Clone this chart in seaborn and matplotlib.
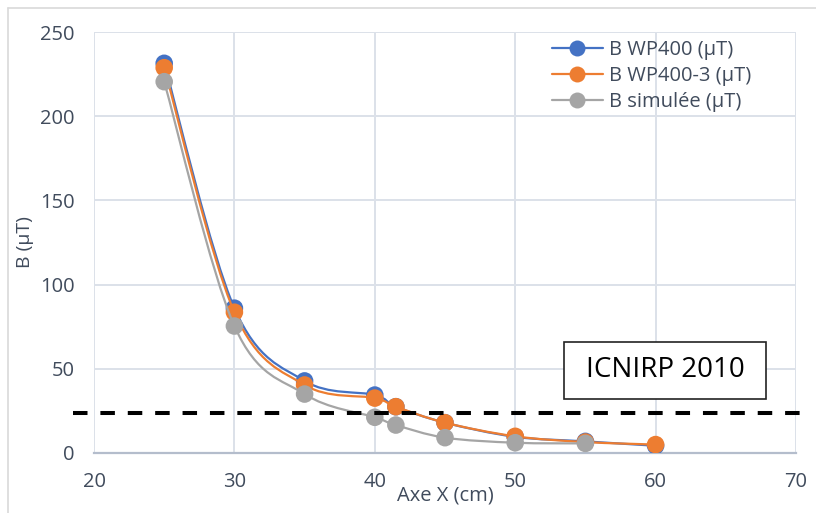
import numpy as np
import pandas as pd
import matplotlib
matplotlib.use("Agg")
import matplotlib.pyplot as plt
import seaborn as sns
from matplotlib.path import Path
from matplotlib.patches import PathPatch, Rectangle
from matplotlib.lines import Line2D

# ---- data ----
x_wp400 = [25, 30, 35, 40, 41.5, 45, 50, 55, 60]
b_wp400 = [231.4, 86.0, 42.8, 34.4, 27.5, 18.0, 9.6, 6.9, 4.3]
x_wp400_3 = [25, 30, 35, 40, 41.5, 45, 50, 55, 60]
b_wp400_3 = [228.8, 83.6, 40.4, 32.6, 27.5, 18.0, 9.9, 6.5, 5.0]
x_sim = [25, 30, 35, 40, 41.5, 45, 50, 55]
b_sim = [220.5, 75.4, 35.0, 21.2, 16.6, 9.1, 6.1, 5.7]
series_names = ["B WP400 (µT)", "B WP400-3 (µT)", "B simulée (µT)"]
series_colors = ["#4472C4", "#ED7D31", "#A5A5A5"]
icnirp_level = 24
icnirp_label = "ICNIRP 2010"
x_ticks = [20, 30, 40, 50, 60, 70]
y_ticks = [0, 50, 100, 150, 200, 250]

sns.set_theme(style="white")
plt.rcParams['font.family'] = ['Open Sans', 'DejaVu Sans']
txt_col = "#404B5C"

fig = plt.figure(figsize=(8.16, 5.13), dpi=100)
ax = fig.add_axes([94/816, 60/513, 702/816, 421/513])

def smooth_path(xs, ys, t=1/6):
    pts = np.column_stack([xs, ys]).astype(float)
    n = len(pts)
    verts = [pts[0]]
    codes = [Path.MOVETO]
    for i in range(n - 1):
        p0 = pts[i - 1] if i > 0 else pts[i]
        p1 = pts[i]
        p2 = pts[i + 1]
        p3 = pts[i + 2] if i + 2 < n else pts[i + 1]
        c1 = p1 + (p2 - p0) * t
        c2 = p2 - (p3 - p1) * t
        verts += [c1, c2, p2]
        codes += [Path.CURVE4] * 3
    return Path(verts, codes)

frames = []
for name, xs, ys in zip(series_names, [x_wp400, x_wp400_3, x_sim], [b_wp400, b_wp400_3, b_sim]):
    frames.append(pd.DataFrame({"x": xs, "B": ys, "serie": name}))
df = pd.concat(frames, ignore_index=True)

for k, (name, col) in enumerate(zip(series_names, series_colors)):
    sub = df[df["serie"] == name]
    patch = PathPatch(smooth_path(sub["x"].values, sub["B"].values), facecolor="none",
                      edgecolor=col, lw=1.6, zorder=3 + 2 * k, transform=ax.transData)
    ax.add_patch(patch)
    sns.scatterplot(data=sub, x="x", y="B", color=col, s=160, edgecolor="none",
                    ax=ax, zorder=4 + 2 * k, legend=False)

ax.set_xlim(20, 70)
ax.set_ylim(0, 250)
ax.set_xticks(x_ticks)
ax.set_yticks(y_ticks)
ax.grid(True, color="#DCE1E9", lw=1.4)
ax.set_axisbelow(True)
for s in ["top", "right", "left"]:
    ax.spines[s].set_visible(False)
ax.spines["bottom"].set_color("#B4BDCC")
ax.spines["bottom"].set_linewidth(1.6)
ax.tick_params(axis="both", length=0, labelsize=14.5, labelcolor=txt_col)
ax.tick_params(axis="x", pad=14)
ax.tick_params(axis="y", pad=14)
ax.set_xlabel("Axe X (cm)", fontsize=14.5, color=txt_col, labelpad=-5)
ax.set_ylabel("B (µT)", fontsize=14, color=txt_col, labelpad=4)

# ICNIRP threshold line
ax.axhline(icnirp_level, xmin=-0.03, xmax=1.02, color="black", lw=2.9,
           dashes=(3.6, 3.2), clip_on=False, zorder=10)

# ICNIRP box
ax.add_patch(Rectangle((0.6695, 0.128), 0.2875, 0.1357, transform=ax.transAxes,
                       facecolor="white", edgecolor="#222222", lw=1.2, zorder=11))
ax.text(0.8134, 0.196, icnirp_label, transform=ax.transAxes, ha="center", va="center",
        fontsize=20, color="black", zorder=12)

handles = [Line2D([0], [0], color=c, lw=1.6, marker="o", markersize=11.5,
                  markeredgewidth=0) for c in series_colors]
leg = ax.legend(handles, series_names, loc="upper left", bbox_to_anchor=(0.647, 0.99),
                frameon=False, fontsize=14.5, handlelength=2.5, handletextpad=0.3,
                labelspacing=0.3, borderpad=0.2, borderaxespad=0.0)
for t in leg.get_texts():
    t.set_color(txt_col)

# chart-area border (left & top)
fig.add_artist(Line2D([8/816, 8/816], [0, 1 - 8/513], color="#D9D9D9", lw=1.2,
                      transform=fig.transFigure))
fig.add_artist(Line2D([8/816, 1], [1 - 8/513, 1 - 8/513], color="#D9D9D9", lw=1.2,
                      transform=fig.transFigure))

fig.savefig("out.png", dpi=100)
